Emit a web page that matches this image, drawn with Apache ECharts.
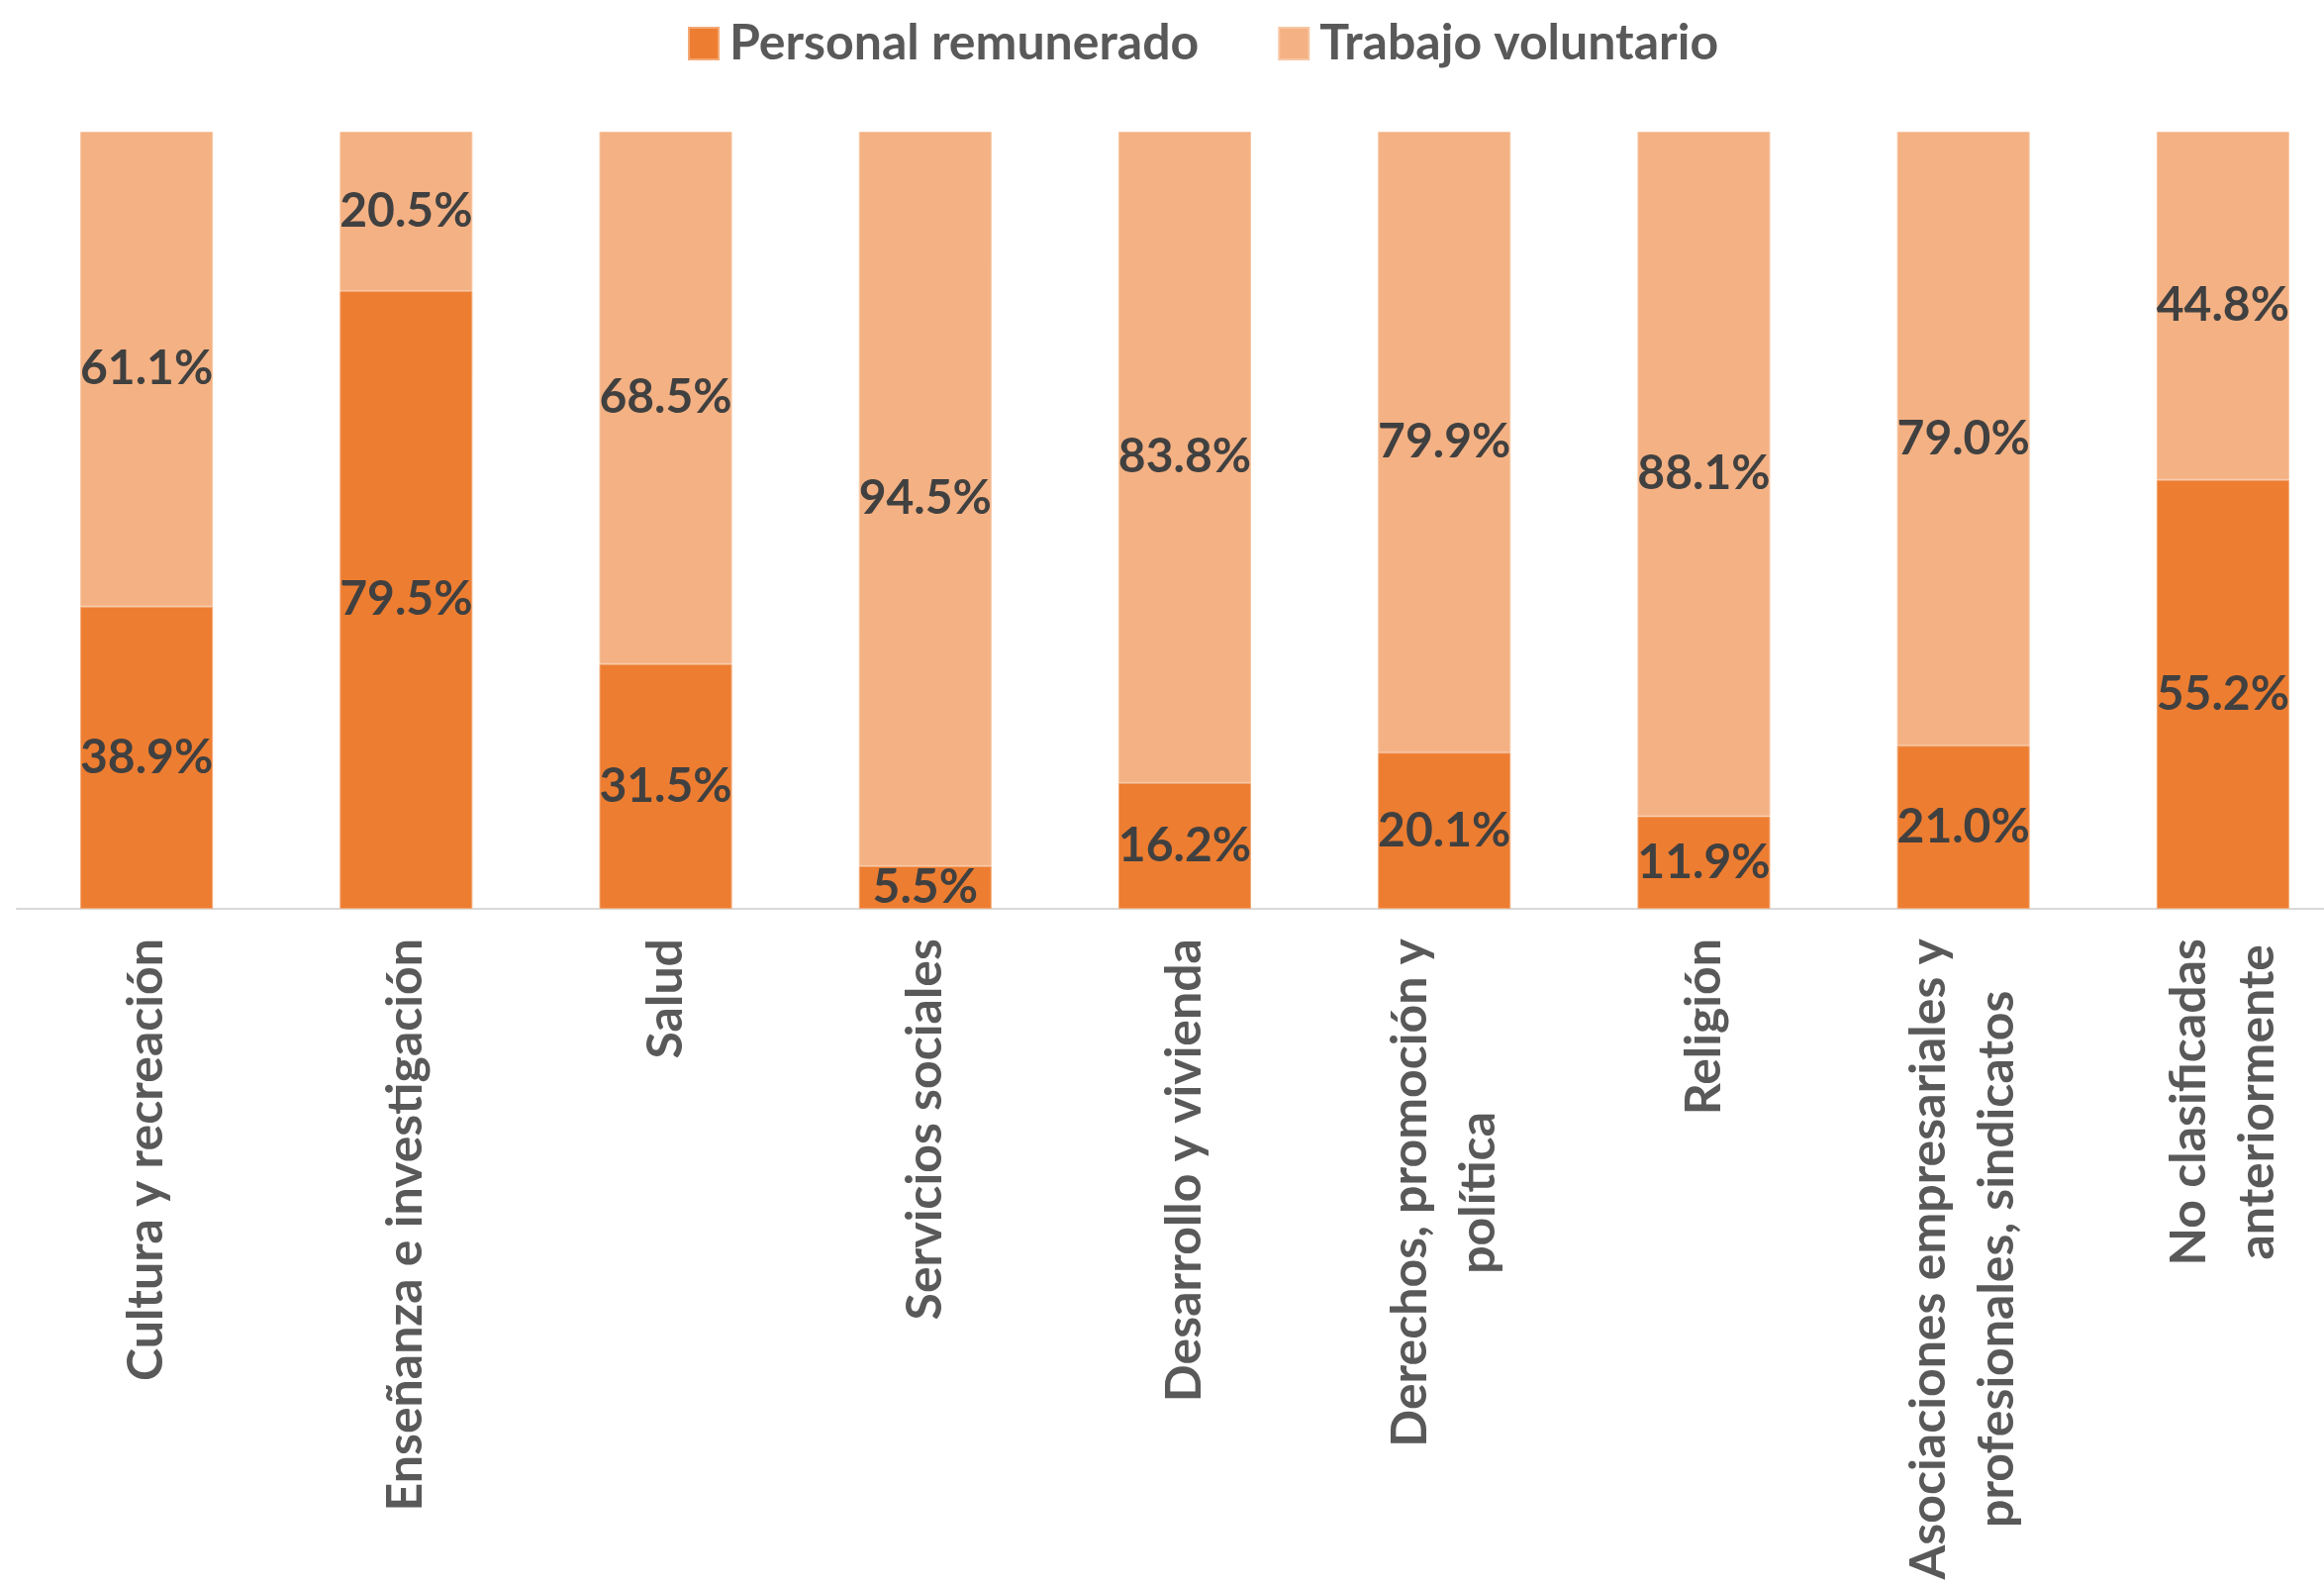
<!DOCTYPE html>
<html>
<head>
<meta charset="utf-8">
<script src="https://cdn.jsdelivr.net/npm/echarts@6/dist/echarts.min.js"></script>
<style>
  html, body { margin: 0; padding: 0; background: #ffffff; }
  #chart { width: 2348px; height: 1600px; }
</style>
</head>
<body>
<div id="chart"></div>
<script>
// categorías del eje x
const categories = [
  "Cultura y recreación",
  "Enseñanza e investigación",
  "Salud",
  "Servicios sociales",
  "Desarrollo y vivienda",
  "Derechos, promoción y\npolítica",
  "Religión",
  "Asociaciones empresariales y\nprofesionales, sindicatos",
  "No clasificadas\nanteriormente"
];
const seriesNames = ["Personal remunerado", "Trabajo voluntario"];
const remunerado = [38.9, 79.5, 31.5, 5.5, 16.2, 20.1, 11.9, 21.0, 55.2];
const voluntario = [61.1, 20.5, 68.5, 94.5, 83.8, 79.9, 88.1, 79.0, 44.8];

const FONT = "Lato";
const labelStyle = {
  show: true,
  position: "inside",
  color: "#404040",
  fontFamily: FONT,
  fontWeight: "bold",
  fontSize: 48,
  formatter: function (p) {
    return p.value.toFixed(1) + "%";
  }
};

const chart = echarts.init(document.getElementById("chart"));
const option = {
  backgroundColor: "#ffffff",
  animation: false,
  legend: {
    data: seriesNames,
    top: 14,
    left: 690,
    itemWidth: 30,
    itemHeight: 32,
    itemGap: 80,
    icon: "rect",
    textStyle: {
      color: "#595959",
      fontFamily: FONT,
      fontWeight: "bold",
      fontSize: 50,
      padding: [0, 0, 0, 6]
    }
  },
  grid: {
    left: 17,
    top: 133,
    bottom: 682,
    width: 2360,
    containLabel: false,
    outerBoundsMode: "none"
  },
  xAxis: {
    type: "category",
    data: categories,
    axisTick: { show: false },
    axisLine: { lineStyle: { color: "#D9D9D9", width: 2 } },
    axisLabel: {
      rotate: 90,
      interval: 0,
      margin: 30,
      formatter: function (v) {
        // cada línea centrada dentro del bloque
        return v.split("\n").map(function (s) { return "{c|" + s + "}"; }).join("\n");
      },
      rich: {
        c: {
          align: "center",
          color: "#595959",
          fontFamily: FONT,
          fontWeight: "bold",
          fontSize: 50,
          lineHeight: 69
        }
      }
    }
  },
  yAxis: {
    type: "value",
    min: 0,
    max: 100,
    show: false,
    splitLine: { show: false }
  },
  series: [
    {
      name: seriesNames[0],
      type: "bar",
      stack: "total",
      barWidth: 134,
      itemStyle: { color: "#ED7D31", borderColor: "#F3A874", borderWidth: 1 },
      label: labelStyle,
      data: remunerado
    },
    {
      name: seriesNames[1],
      type: "bar",
      stack: "total",
      barWidth: 134,
      itemStyle: { color: "#F4B183", borderColor: "#F7C6A2", borderWidth: 1 },
      label: labelStyle,
      data: voluntario
    }
  ]
};
chart.setOption(option);
</script>
</body>
</html>
